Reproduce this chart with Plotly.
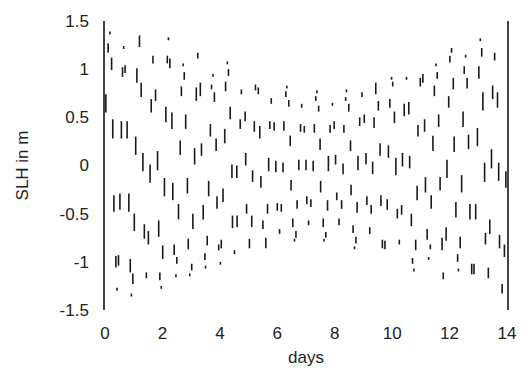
import plotly.graph_objects as go

# Visible SLH trace segments (day, top value m, bottom value m)
dash_day = [0.03, 0.11, 0.17, 0.23, 0.27, 0.57, 0.61, 0.65, 0.70, 0.77, 1.07, 1.11, 1.20, 1.26, 1.32, 1.61, 1.67, 1.76, 1.83, 2.12,
            2.17, 2.21, 2.26, 2.33, 2.62, 2.66, 2.72, 2.76, 2.81, 3.12, 3.18, 3.23, 3.32, 3.36, 3.67, 3.71, 3.76, 3.81, 3.87, 4.17,
            4.20, 4.26, 4.30, 4.36, 1.57, 4.42, 4.59, 0.31, 0.52, 0.83, 1.02, 1.37, 1.51, 1.87, 2.07, 2.36, 2.56, 2.87, 3.06, 3.42,
            3.61, 3.90, 4.11, 2.01, 2.41, 2.50, 2.90, 3.02, 2.95, 2.47, 3.56, 3.48, 3.50, 3.96, 4.05, 4.02, 4.51, 0.38, 0.47, 0.88,
            0.97, 1.44, 1.91, 1.96, 0.42, 0.92, 4.75, 4.88, 4.71, 4.90, 5.24, 5.34, 5.20, 5.39, 5.70, 5.79, 5.74, 5.89, 6.23, 6.33,
            6.30, 6.40, 6.45, 6.75, 6.81, 6.85, 6.94, 7.00, 7.25, 7.29, 7.34, 7.38, 7.44, 7.49, 7.78, 7.84, 7.92, 7.98, 8.03, 8.32,
            8.38, 8.41, 8.49, 8.55, 8.81, 8.87, 8.95, 9.03, 9.09, 9.37, 9.43, 5.14, 5.43, 5.95, 6.20, 6.48, 7.51, 8.29, 8.57, 9.32,
            4.93, 5.66, 6.00, 6.14, 6.69, 7.03, 7.17, 7.75, 8.07, 8.24, 8.78, 9.12, 9.27, 4.44, 4.60, 5.11, 5.50, 6.08, 6.54, 7.09,
            7.60, 8.15, 8.64, 9.22, 6.65, 7.69, 8.74, 5.03, 5.60, 6.60, 7.63, 8.69, 9.52, 9.58, 9.87, 9.92, 9.98, 10.02, 10.08, 10.13,
            10.36, 10.42, 10.50, 10.58, 10.61, 10.90, 10.98, 11.07, 11.13, 11.42, 11.47, 11.53, 11.57, 11.62, 11.91, 11.97, 12.01, 12.07, 12.13, 12.16,
            12.47, 12.51, 12.56, 12.61, 12.66, 12.97, 13.02, 13.07, 13.12, 13.16, 13.46, 13.50, 13.57, 13.67, 13.22, 13.71, 13.96, 10.87, 11.16, 11.67,
            12.42, 11.36, 9.61, 9.83, 10.18, 10.33, 10.67, 12.22, 12.71, 12.91, 13.40, 13.25, 13.74, 13.91, 11.88, 11.22, 11.33, 11.74, 12.37, 12.28,
            10.82, 9.75, 9.66, 10.25, 10.71, 10.76, 11.27, 11.78, 12.31, 12.77, 12.85, 13.35, 13.83]

dash_top = [0.74, 1.27, 1.39, 1.12, 0.48, 0.46, 1.02, 1.24, 1.04, 0.46, 0.30, 1.01, 1.35, 0.86, 0.13, 0.69, 1.14, 0.79, 0.15, 0.61,
            1.14, 1.33, 1.11, 0.55, 0.26, 0.82, 1.06, 0.97, 0.53, 0.18, 0.81, 1.17, 0.86, 0.23, 0.43, 0.84, 0.95, 0.76, 0.28, 0.38,
            0.87, 1.08, 1.00, 0.61, 0.01, 0.01, 0.00, -0.31, -0.29, -0.29, -0.50, -0.61, -0.68, -0.57, -0.13, -0.18, -0.40, -0.13, -0.50, -0.41,
            -0.16, -0.32, -0.24, -0.83, -0.82, -0.95, -0.76, -1.02, -1.12, -1.13, -0.73, -0.91, -1.04, -0.82, -0.77, -1.00, -0.88, -0.94, -0.93, -0.97,
            -1.12, -1.11, -1.11, -1.25, -1.27, -1.33, 0.79, 0.56, 0.48, 0.13, 0.84, 0.81, 0.46, 0.41, 0.08, 0.70, 0.46, 0.45, 0.46, 0.83,
            0.77, 0.68, 0.31, 0.06, 0.43, 0.64, 0.41, 0.06, 0.05, 0.43, 0.72, 0.78, 0.62, 0.28, 0.10, 0.42, 0.65, 0.46, 0.11, 0.42,
            0.71, 0.79, 0.64, 0.26, 0.10, 0.50, 0.76, 0.53, 0.13, 0.50, 0.86, -0.05, -0.11, 0.05, 0.03, -0.15, -0.16, 0.02, -0.20, 0.04,
            -0.40, -0.40, -0.39, -0.40, -0.36, -0.32, -0.35, -0.36, -0.28, -0.36, -0.38, -0.32, -0.41, -0.52, -0.52, -0.52, -0.57, -0.66, -0.55, -0.57,
            -0.55, -0.55, -0.62, -0.64, -0.68, -0.69, -0.74, -0.76, -0.75, -0.76, -0.76, -0.84, 0.67, 0.23, 0.21, 0.69, 0.92, 0.87, 0.56, 0.08,
            0.13, 0.64, 0.92, 0.66, 0.10, 0.42, 0.91, 0.95, 0.48, 0.31, 0.83, 1.06, 0.97, 0.53, 0.06, 0.72, 1.14, 1.22, 0.91, 0.30,
            0.56, 1.03, 1.15, 0.91, 0.32, 0.39, 1.03, 1.32, 1.22, 0.76, 0.17, 0.83, 1.17, 0.76, 0.03, 0.03, -0.06, -0.21, -0.12, -0.12,
            -0.10, -0.31, -0.31, -0.35, -0.45, -0.41, -0.50, -0.38, -0.40, -0.40, -0.56, -0.70, -0.72, -0.82, -0.64, -0.66, -0.82, -0.75, -0.74, -0.92,
            -0.77, -0.78, -0.77, -0.77, -0.96, -1.07, -0.95, -1.11, -1.07, -1.02, -1.02, -1.06, -1.23]

dash_bottom = [0.55, 1.17, 1.36, 0.99, 0.28, 0.28, 0.92, 1.21, 0.96, 0.28, 0.11, 0.86, 1.23, 0.71, -0.06, 0.55, 1.06, 0.67, -0.05, 0.45,
               1.06, 1.30, 1.01, 0.38, 0.11, 0.72, 1.03, 0.89, 0.38, 0.01, 0.67, 1.11, 0.72, 0.10, 0.30, 0.79, 0.92, 0.66, 0.15, 0.23,
               0.77, 1.05, 0.93, 0.48, -0.18, -0.13, -0.13, -0.48, -0.46, -0.48, -0.68, -0.76, -0.82, -0.74, -0.32, -0.36, -0.56, -0.29, -0.66, -0.56,
               -0.32, -0.45, -0.38, -0.97, -0.93, -1.02, -0.87, -1.09, -1.15, -1.16, -0.83, -0.98, -1.07, -0.88, -0.86, -1.03, -0.92, -1.06, -1.04, -1.11,
               -1.23, -1.17, -1.19, -1.28, -1.30, -1.36, 0.74, 0.46, 0.38, 0.00, 0.78, 0.74, 0.35, 0.28, -0.06, 0.64, 0.38, 0.36, 0.36, 0.80,
               0.71, 0.61, 0.20, -0.05, 0.35, 0.60, 0.34, -0.05, -0.06, 0.34, 0.67, 0.75, 0.56, 0.16, -0.06, 0.34, 0.62, 0.38, 0.01, 0.34,
               0.67, 0.76, 0.56, 0.15, -0.05, 0.41, 0.71, 0.44, 0.01, 0.39, 0.74, -0.17, -0.23, -0.07, -0.07, -0.26, -0.28, -0.09, -0.31, -0.09,
               -0.50, -0.50, -0.47, -0.48, -0.45, -0.40, -0.43, -0.47, -0.36, -0.45, -0.49, -0.41, -0.50, -0.65, -0.64, -0.64, -0.66, -0.71, -0.64, -0.62,
               -0.64, -0.62, -0.70, -0.71, -0.75, -0.75, -0.81, -0.86, -0.86, -0.79, -0.79, -0.87, 0.57, 0.10, 0.08, 0.60, 0.89, 0.82, 0.44, -0.10,
               -0.01, 0.51, 0.89, 0.53, -0.03, 0.30, 0.82, 0.86, 0.35, 0.15, 0.72, 1.03, 0.90, 0.40, -0.13, 0.60, 1.07, 1.17, 0.79, 0.14,
               0.40, 0.95, 1.12, 0.80, 0.17, 0.20, 0.90, 1.29, 1.13, 0.57, -0.03, 0.69, 1.09, 0.60, -0.17, -0.16, -0.23, -0.36, -0.28, -0.26,
               -0.28, -0.45, -0.42, -0.46, -0.55, -0.51, -0.63, -0.54, -0.56, -0.56, -0.71, -0.82, -0.86, -0.95, -0.78, -0.77, -0.87, -0.88, -0.86, -1.00,
               -0.88, -0.87, -0.86, -0.82, -1.02, -1.10, -0.98, -1.18, -1.10, -1.13, -1.13, -1.17, -1.33]

x_ticks = [0, 2, 4, 6, 8, 10, 12, 14]
y_ticks = [-1.5, -1, -0.5, 0, 0.5, 1, 1.5]
y_ticktext = ["-1.5", "-1", "-0.5", "0", "0.5", "1", "1.5"]

xs, ys = [], []
for d, top, bot in zip(dash_day, dash_top, dash_bottom):
    xs += [d, d, None]
    ys += [top, bot, None]

fig = go.Figure(go.Scatter(x=xs, y=ys, mode="lines", line=dict(color="#1a1a1a", width=1.6),
                           connectgaps=False, hoverinfo="skip", showlegend=False))

font = dict(family="Liberation Sans, Arial, sans-serif", size=17, color="#222222")
fig.update_layout(
    width=528, height=376,
    margin=dict(l=105, r=16, t=15, b=66),
    paper_bgcolor="white", plot_bgcolor="white",
    font=font,
    xaxis=dict(range=[0, 14], tickvals=x_ticks, ticks="", showline=False, showgrid=False,
               zeroline=False, ticklabelstandoff=11,
               title=dict(text="days", font=font, standoff=9)),
    yaxis=dict(range=[-1.5, 1.5], tickvals=y_ticks, ticktext=y_ticktext, ticks="",
               showline=True, mirror=True, linecolor="#444444", linewidth=1.5,
               showgrid=False, zeroline=False, ticklabelstandoff=11,
               title=dict(text="SLH in m", font=font, standoff=27)),
)
fig.write_html("out.html")
